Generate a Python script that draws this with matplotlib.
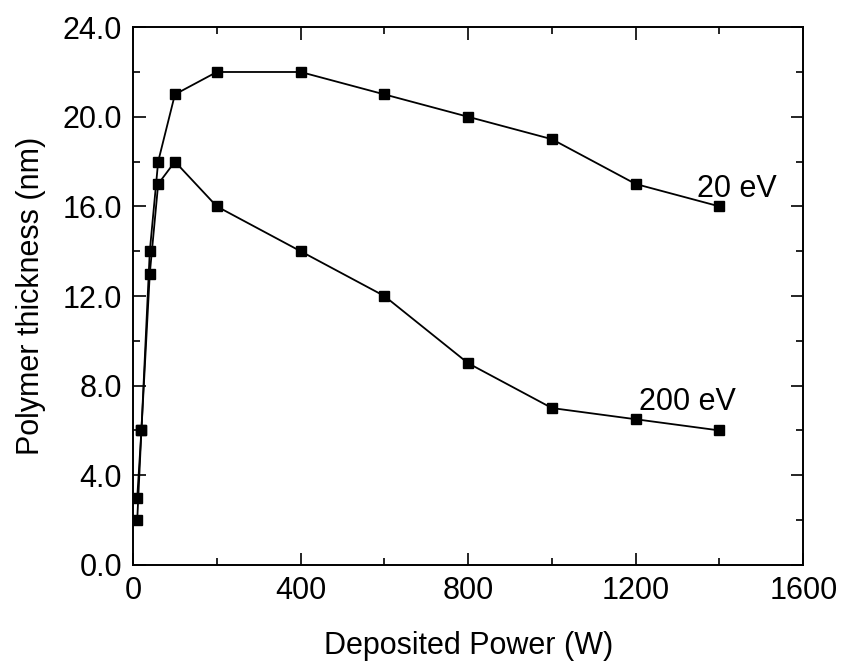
import matplotlib
matplotlib.use("Agg")
import matplotlib.pyplot as plt
from matplotlib.ticker import MultipleLocator, FormatStrFormatter

plt.rcParams["font.family"] = ["Liberation Sans", "DejaVu Sans"]

# deposited power (W)
power = [10, 20, 40, 60, 100, 200, 400, 600, 800, 1000, 1200, 1400]
# polymer thickness (nm)
thick_20ev = [3, 6, 14, 18, 21, 22, 22, 21, 20, 19, 17, 16]
thick_200ev = [2, 6, 13, 17, 18, 16, 14, 12, 9, 7, 6.5, 6]

FS = 22

fig = plt.figure(figsize=(8.42, 6.63), dpi=100)
ax = fig.add_axes([0.158, 0.148, 0.796, 0.811])

for y in (thick_20ev, thick_200ev):
    ax.plot(power, y, color="black", linewidth=1.3, marker="s",
            markersize=7, markerfacecolor="black", markeredgecolor="black")

ax.text(1347, 16.4, "20 eV", fontsize=FS, ha="left", va="baseline")
ax.text(1208, 6.9, "200 eV", fontsize=FS, ha="left", va="baseline")

ax.set_xlim(0, 1600)
ax.set_ylim(0, 24)
ax.xaxis.set_major_locator(MultipleLocator(400))
ax.xaxis.set_minor_locator(MultipleLocator(200))
ax.yaxis.set_major_locator(MultipleLocator(4))
ax.yaxis.set_minor_locator(MultipleLocator(2))
ax.yaxis.set_major_formatter(FormatStrFormatter("%.1f"))

ax.tick_params(which="both", direction="in", top=True, right=True,
               labelsize=FS, width=1.2)
ax.tick_params(which="major", length=9, pad=8)
ax.tick_params(which="minor", length=5)
for s in ax.spines.values():
    s.set_linewidth(1.4)

ax.set_xlabel("Deposited Power (W)", fontsize=FS, labelpad=18)
ax.set_ylabel("Polymer thickness (nm)", fontsize=FS, labelpad=12)

fig.savefig("out.png", dpi=100)
